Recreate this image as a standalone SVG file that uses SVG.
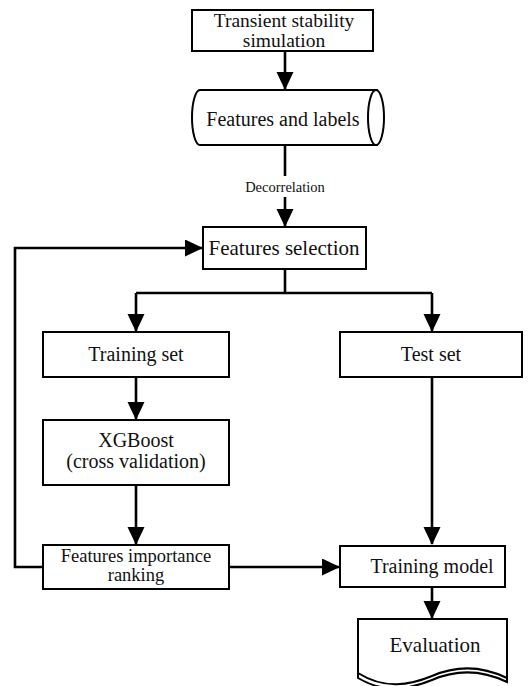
<svg xmlns="http://www.w3.org/2000/svg" width="530" height="686" viewBox="0 0 530 686">
<style>
.box{fill:#fff;stroke:#000;stroke-width:2}
.ln{fill:none;stroke:#000;stroke-width:2.6}
text{font-family:'Liberation Serif',serif;font-size:20px;fill:#111;text-anchor:middle}
.s{font-size:14.5px}
</style>
<defs>
<marker id="ah" markerUnits="userSpaceOnUse" markerWidth="18" markerHeight="18" refX="17" refY="8.5" orient="auto">
<path d="M0,0 L18,8.5 L0,17 z" fill="#000"/>
</marker>
</defs>
<g id="connectors">
<path class="ln" d="M285,51 V89" marker-end="url(#ah)"/>
<path class="ln" d="M285,145 V176"/>
<path class="ln" d="M285,197 V226" marker-end="url(#ah)"/>
<path class="ln" d="M285,269 V293"/>
<path class="ln" d="M136,293 H432"/>
<path class="ln" d="M136,293 V331" marker-end="url(#ah)"/>
<path class="ln" d="M432,293 V331" marker-end="url(#ah)"/>
<path class="ln" d="M136,377 V419" marker-end="url(#ah)"/>
<path class="ln" d="M136,485 V544" marker-end="url(#ah)"/>
<path class="ln" d="M432,377 V544" marker-end="url(#ah)"/>
<path class="ln" d="M229,567 H339" marker-end="url(#ah)"/>
<path class="ln" d="M432,587 V618" marker-end="url(#ah)"/>
<path class="ln" d="M43,567 H15 V248 H202" marker-end="url(#ah)"/>
<text class="s" x="285" y="192">Decorrelation</text>
</g>
<g id="n1">
<rect class="box" x="192" y="10" width="181" height="41"/>
<text x="284" y="27" style="font-size:19.5px">Transient stability</text>
<text x="284" y="47" style="font-size:19.5px">simulation</text>
</g>
<g id="n2">
<path class="box" d="M200,90 H377 V145 H200 A8,27.5 0 0 1 200,90 Z"/>
<ellipse class="box" cx="376" cy="117.5" rx="8" ry="27.5"/>
<text x="283" y="126">Features and labels</text>
</g>
<g id="n3">
<rect class="box" x="203" y="227" width="163" height="42"/>
<text x="284" y="255" style="font-size:21px">Features selection</text>
</g>
<g id="n4">
<rect class="box" x="43" y="332" width="186" height="45"/>
<text x="136" y="361">Training set</text>
</g>
<g id="n5">
<rect class="box" x="340" y="332" width="182" height="45"/>
<text x="431" y="361">Test set</text>
</g>
<g id="n6">
<rect class="box" x="43" y="420" width="186" height="65"/>
<text x="136" y="447">XGBoost</text>
<text x="136" y="468">(cross validation)</text>
</g>
<g id="n7">
<rect class="box" x="43" y="545" width="186" height="44"/>
<text x="136" y="562" style="font-size:18.5px">Features importance</text>
<text x="136" y="581" style="font-size:18.5px">ranking</text>
</g>
<g id="n8">
<rect class="box" x="340" y="546" width="165" height="41"/>
<text x="432" y="573">Training model</text>
</g>
<g id="n9">
<path class="box" d="M358,619 H507 V678 C480,665 455,666 432,676 C410,685 385,690 358,673 Z"/>
<path class="ln" style="stroke-width:2" d="M358,673 V678 C385,694 410,689 432,680 C455,670 480,669 507,682 V678"/>
<text x="435" y="652" style="font-size:21px">Evaluation</text>
</g>
</svg>
